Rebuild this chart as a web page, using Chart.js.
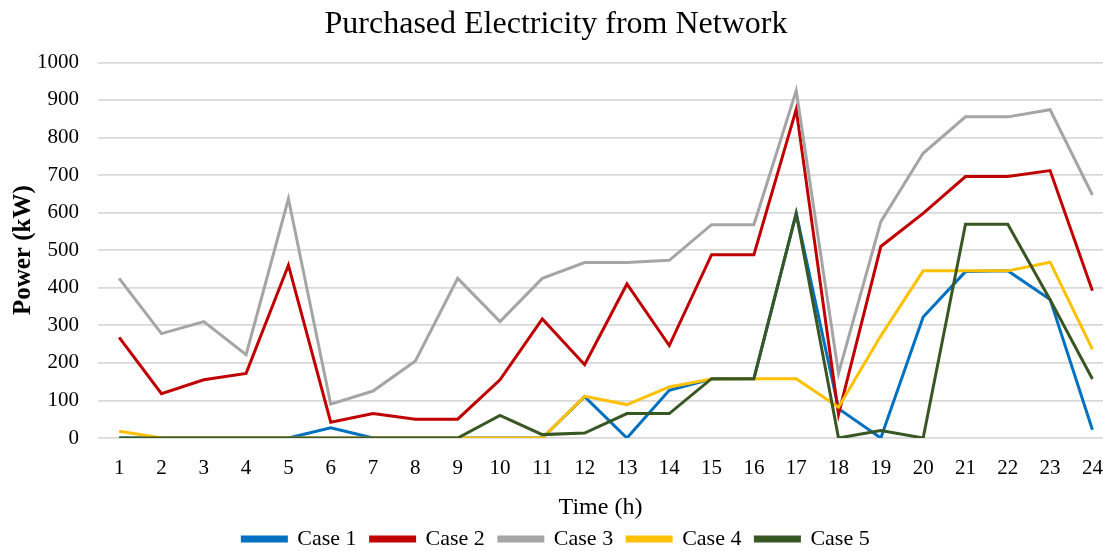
<!DOCTYPE html>
<html>
<head>
<meta charset="utf-8">
<script src="https://cdn.jsdelivr.net/npm/chart.js@4.4.1/dist/chart.umd.min.js"></script>
<style>
  html, body { margin: 0; padding: 0; background: #fff; }
  #wrap { width: 1103px; height: 551px; }
</style>
</head>
<body>
<div id="wrap"><canvas id="chart"></canvas></div>
<script>
// ── Data ──────────────────────────────────────────────────────
const HOURS = [1, 2, 3, 4, 5, 6, 7, 8, 9, 10, 11, 12, 13, 14, 15, 16, 17, 18, 19, 20, 21, 22, 23, 24];
const Y_TICKS = [0, 100, 200, 300, 400, 500, 600, 700, 800, 900, 1000];

const case1 = [0, 0, 0, 0, 0, 27, 0, 0, 0, 0, 0, 110, 0, 127, 157, 158, 598, 78, 0, 322, 443, 445, 369, 22];
const case2 = [268, 118, 155, 172, 460, 42, 65, 50, 50, 155, 317, 195, 410, 246, 488, 488, 875, 63, 510, 598, 696, 696, 712, 392];
const case3 = [425, 278, 310, 222, 637, 90, 125, 205, 425, 310, 425, 467, 467, 473, 568, 568, 925, 172, 576, 758, 855, 855, 874, 647];
const case4 = [18, 0, 0, 0, 0, 0, 0, 0, 0, 0, 0, 111, 89, 136, 157, 158, 158, 82, 272, 445, 445, 445, 468, 236];
const case5 = [0, 0, 0, 0, 0, 0, 0, 0, 0, 60, 9, 13, 65, 65, 158, 158, 598, 0, 20, 0, 569, 569, 368, 157];

const SERIES = [
  { label: 'Case 1', data: case1, color: '#0070C0' },
  { label: 'Case 2', data: case2, color: '#C00000' },
  { label: 'Case 3', data: case3, color: '#A5A5A5' },
  { label: 'Case 4', data: case4, color: '#FFC000' },
  { label: 'Case 5', data: case5, color: '#385723' }
];

const SERIF = '"Liberation Serif", "Times New Roman", serif';

// ── Chart ─────────────────────────────────────────────────────
// later cases are drawn on top, as in the original
const datasets = SERIES.map((s, i) => ({
  label: s.label,
  data: s.data.map((v, j) => ({ x: HOURS[j], y: v })),
  borderColor: s.color,
  backgroundColor: s.color,
  borderWidth: 3,
  pointRadius: 0,
  tension: 0,
  order: SERIES.length - i
}));

new Chart(document.getElementById('chart'), {
  type: 'line',
  data: { datasets },
  options: {
    responsive: true,
    maintainAspectRatio: false,
    animation: false,
    layout: { padding: { left: 9, right: 0, top: 0, bottom: -9 } },
    plugins: {
      title: {
        display: true,
        text: 'Purchased Electricity from Network',
        color: '#000',
        font: { family: SERIF, size: 32, weight: 'normal' },
        padding: { top: 5, bottom: 19 }
      },
      legend: {
        position: 'bottom',
        labels: {
          color: '#000',
          font: { family: SERIF, size: 22 },
          boxWidth: 44,
          boxHeight: 4,
          padding: 14,
          sort: (a, b) => a.datasetIndex - b.datasetIndex
        }
      },
      tooltip: { enabled: false }
    },
    scales: {
      x: {
        type: 'linear',
        min: 0.5,
        max: 24.25,
        afterBuildTicks: axis => { axis.ticks = HOURS.map(v => ({ value: v })); },
        // let the plot run to the right edge like the original
        afterFit: axis => { axis.paddingRight = 0; axis.paddingLeft = 0; },
        grid: { display: false, drawTicks: false },
        border: { display: false },
        ticks: {
          color: '#000',
          font: { family: SERIF, size: 21 },
          padding: 18,
          maxRotation: 0,
          autoSkip: false
        },
        title: {
          display: true,
          text: 'Time (h)',
          color: '#000',
          font: { family: SERIF, size: 24 },
          padding: { top: -6, bottom: -8 }
        }
      },
      y: {
        min: 0,
        max: 1000,
        afterBuildTicks: axis => { axis.ticks = Y_TICKS.map(v => ({ value: v })); },
        grid: { color: '#D9D9D9', lineWidth: 1.8, drawTicks: false },
        border: { display: false },
        ticks: {
          color: '#000',
          font: { family: SERIF, size: 21 },
          padding: 19,
          callback: v => String(v)
        },
        title: {
          display: true,
          text: 'Power (kW)',
          color: '#000',
          font: { family: SERIF, size: 25, weight: 'bold' },
          padding: { top: 0, bottom: -21 }
        }
      }
    }
  }
});
</script>
</body>
</html>
